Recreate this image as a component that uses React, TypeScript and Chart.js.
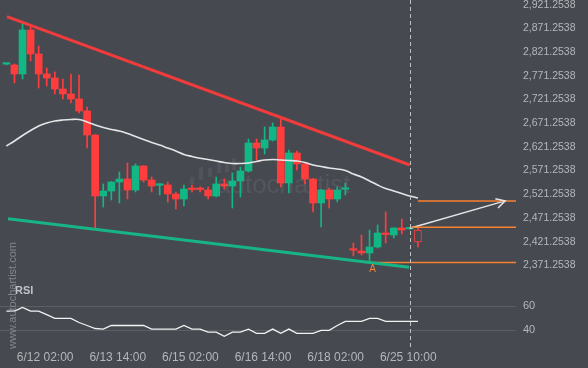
import React, { useEffect, useRef } from 'react';
import { Chart, registerables } from 'chart.js';

Chart.register(...registerables);

// ---------- data ----------
const opens = [
  2789.5, 2787.7, 2768.8, 2861.6, 2811.0, 2768.8, 2760.3, 2737.1, 2726.6, 2716.0,
  2690.7, 2640.0, 2511.4, 2521.9, 2540.9, 2547.2, 2524.0, 2574.7, 2545.1, 2534.0,
  2534.6, 2515.6, 2505.0, 2526.1, 2526.0, 2524.0, 2511.4, 2536.7, 2532.5, 2543.0,
  2564.1, 2623.2, 2612.6, 2629.5, 2656.9, 2538.8, 2602.1, 2578.9, 2547.2, 2496.6,
  2524.0, 2505.0, 2525.5, 2398.0, 2395.3, 2391.1, 2403.7, 2433.3, 2429.1, 2443.8,
  2442.0, 2439.6,
];
const highs = [
  2791.0, 2789.9, 2876.4, 2872.2, 2827.8, 2781.4, 2773.0, 2758.2, 2768.8, 2766.7,
  2699.1, 2641.0, 2536.7, 2542.0, 2562.0, 2581.0, 2578.9, 2575.5, 2551.4, 2537.0,
  2540.9, 2519.8, 2534.6, 2534.6, 2530.5, 2530.3, 2551.4, 2547.2, 2559.9, 2572.5,
  2631.6, 2631.6, 2656.9, 2665.4, 2673.8, 2608.4, 2606.3, 2579.5, 2548.0, 2525.0,
  2528.2, 2530.3, 2538.8, 2412.2, 2429.1, 2439.6, 2450.2, 2477.6, 2444.5, 2462.8,
  2444.0, 2446.0,
];
const lows = [
  2788.0, 2749.8, 2758.2, 2796.2, 2739.2, 2743.4, 2726.6, 2716.0, 2707.6, 2686.5,
  2612.6, 2443.8, 2488.1, 2502.9, 2496.6, 2505.0, 2519.8, 2540.9, 2519.8, 2513.5,
  2498.7, 2484.0, 2490.3, 2519.8, 2519.8, 2505.0, 2509.2, 2526.1, 2486.0, 2509.2,
  2562.0, 2587.3, 2600.0, 2627.4, 2530.3, 2517.7, 2566.2, 2536.7, 2477.6, 2446.0,
  2486.0, 2498.7, 2513.5, 2384.8, 2386.9, 2371.3, 2401.6, 2412.2, 2422.7, 2431.2,
  2441.0, 2403.7,
];
const closes = [
  2790.5, 2768.8, 2861.6, 2811.0, 2768.8, 2760.3, 2737.1, 2726.6, 2716.0, 2690.7,
  2640.0, 2511.4, 2521.9, 2540.9, 2547.2, 2524.0, 2574.7, 2545.1, 2532.5, 2535.0,
  2515.6, 2505.0, 2526.1, 2525.0, 2525.0, 2511.4, 2536.7, 2532.5, 2543.0, 2564.1,
  2623.2, 2612.6, 2629.5, 2656.9, 2538.8, 2602.1, 2578.9, 2547.2, 2496.6, 2524.0,
  2505.0, 2524.0, 2526.5, 2397.0, 2391.1, 2403.7, 2433.3, 2430.0, 2443.8, 2439.6,
  2443.5, 2414.3,
];
const movingAvg = [
  2616.8, 2627.4, 2639.0, 2649.5, 2659.0, 2665.3, 2669.6, 2671.7, 2672.7, 2672.7,
  2667.4, 2661.1, 2655.8, 2651.6, 2648.5, 2643.2, 2636.9, 2630.5, 2624.2, 2618.9,
  2612.6, 2606.3, 2598.9, 2594.7, 2590.9, 2588.3, 2585.2, 2582.0, 2579.9, 2579.9,
  2581.0, 2584.1, 2587.3, 2588.3, 2587.3, 2586.2, 2585.2, 2582.0, 2576.7, 2573.6,
  2570.4, 2568.3, 2565.1, 2557.7, 2551.4, 2543.0, 2534.5, 2527.1, 2521.9, 2516.6,
  2511.3, 2507.1,
];
const rsiValues = [
  56, 56, 59, 56, 56, 53, 50, 50, 50, 46.5,
  44, 41.5, 41, 44, 44, 44, 44, 44, 41, 41,
  41, 41, 44, 41, 41, 38.5, 38.5, 35, 38.5, 38.5,
  41, 37.5, 37.5, 41, 37.5, 41, 37.5, 37.5, 37.5, 40,
  40, 44, 47.5, 47.5, 47.5, 50, 50, 47.5, 47.5, 47.5,
  47.5, 47.5,
];

// trend / pattern lines: [index, price]
const resistanceLine = [[0.07, 2889.6], [50.0, 2576.7]];
const supportLine = [[0.2, 2463.4], [49.9, 2360.9]];
const levelA = 2371.2538;
const levelA_start = 45;
const levelMid = 2445.3;
const levelMid_start = 50;
const levelTarget = 2501.0;
const levelTarget_start = 51;
const forecastArrow = [[50.0, 2443.2], [61.8, 2501.0]];
const nowIndex = 50;
const aPointIndex = 45;

const xTickPos = [4.8, 13.8, 22.8, 31.8, 40.8, 49.8];
const xTickLabels = ['6/12 02:00', '6/13 14:00', '6/15 02:00', '6/16 14:00', '6/18 02:00', '6/25 10:00'];
const priceTicks = [
  2371.2538, 2421.2538, 2471.2538, 2521.2538, 2571.2538, 2621.2538,
  2671.2538, 2721.2538, 2771.2538, 2821.2538, 2871.2538, 2921.2538,
];
const rsiTicks = [40, 60];

// ---------- styles ----------
const BG = '#464a50';
const TXT = '#b3b6ba';
const GREEN = '#13b785';
const RED = '#ff3d3d';
const TREND_RED = '#f23b3b';
const TREND_GREEN = '#17b585';
const ORANGE = '#f7812f';
const WHITE = '#e4e5e7';
const FONT = '"Liberation Sans", Arial, sans-serif';

const X_MIN = -0.793;
const X_MAX = 63.15;

function fmtPrice(v: number) {
  const s = Number(v).toFixed(4);
  const [a, b] = s.split('.');
  return a.replace(/\B(?=(\d{3})+(?!\d))/g, ',') + '.' + b;
}

const overlayPlugin = {
  id: 'overlay',
  beforeDatasetsDraw(chart: any) {
    const { ctx } = chart;
    ctx.save();
    // faint watermark logo + text
    ctx.fillStyle = 'rgba(255,255,255,0.06)';
    const bars = [
      [190, 177, 4, 7], [199, 167, 4, 13], [208, 168, 4, 9],
      [217, 162, 4, 11], [225, 165, 4, 7], [232, 158, 4, 12],
    ];
    bars.forEach(([x, y, w, h]) => ctx.fillRect(x, y, w, h));
    ctx.fillStyle = 'rgba(255,255,255,0.07)';
    ctx.font = '26px ' + FONT;
    ctx.textBaseline = 'middle';
    ctx.textAlign = 'left';
    ctx.fillText('autochartist', 216, 186);
    ctx.restore();
  },
  afterDatasetsDraw(chart: any) {
    const { ctx, chartArea, scales } = chart;
    const xs = scales.x;
    const ys = scales.y;
    ctx.save();
    // dashed "now" line
    const nx = Math.round(xs.getPixelForValue(nowIndex)) + 0.5;
    ctx.strokeStyle = '#bfc1c4';
    ctx.lineWidth = 1;
    ctx.setLineDash([4, 3]);
    ctx.beginPath();
    ctx.moveTo(nx, chartArea.top);
    ctx.lineTo(nx, chartArea.bottom + 2);
    ctx.stroke();
    ctx.setLineDash([]);

    // arrow head
    const p0 = forecastArrow[0];
    const p1 = forecastArrow[1];
    const x0 = xs.getPixelForValue(p0[0]);
    const y0 = ys.getPixelForValue(p0[1]);
    const x1 = xs.getPixelForValue(p1[0]);
    const y1 = ys.getPixelForValue(p1[1]);
    const ang = Math.atan2(y1 - y0, x1 - x0);
    const L = 10;
    ctx.strokeStyle = WHITE;
    ctx.lineWidth = 1.5;
    ctx.beginPath();
    ctx.moveTo(x1 - L * Math.cos(ang - 0.5), y1 - L * Math.sin(ang - 0.5));
    ctx.lineTo(x1, y1);
    ctx.lineTo(x1 - L * Math.cos(ang + 0.5), y1 - L * Math.sin(ang + 0.5));
    ctx.stroke();

    // "A" marker
    ctx.fillStyle = ORANGE;
    ctx.font = '10px ' + FONT;
    ctx.textAlign = 'center';
    ctx.textBaseline = 'middle';
    ctx.fillText('A', xs.getPixelForValue(aPointIndex) + 3, ys.getPixelForValue(lows[aPointIndex]) + 7);

    // vertical site watermark
    ctx.save();
    ctx.translate(13, 349);
    ctx.rotate(-Math.PI / 2);
    ctx.fillStyle = 'rgba(150,153,158,0.75)';
    ctx.font = '11px ' + FONT;
    ctx.textAlign = 'left';
    ctx.textBaseline = 'middle';
    ctx.fillText('www.autochartist.com', 0, 0);
    ctx.restore();

    // RSI label
    ctx.fillStyle = '#bfc2c6';
    ctx.font = 'bold 11px ' + FONT;
    ctx.textAlign = 'left';
    ctx.textBaseline = 'middle';
    ctx.fillText('RSI', 15, 291);
    ctx.restore();
  },
};

export default function App() {
  const ref = useRef<HTMLCanvasElement>(null);

  useEffect(() => {
    const idx = opens.map((_, i) => i);
    const last = opens.length - 1;
    const candleColor = (i: number) => (closes[i] >= opens[i] ? GREEN : RED);

    Chart.defaults.font.family = FONT;

    const lineDs = (data: number[][], color: string, width: number, extra: any = {}) => ({
      type: 'line',
      data: data.map(([x, y]) => ({ x, y })),
      borderColor: color,
      borderWidth: width,
      pointRadius: 0,
      fill: false,
      tension: 0,
      order: 0,
      ...extra,
    });

    const chart = new Chart(ref.current as HTMLCanvasElement, {
      type: 'bar',
      data: {
        datasets: [
          {
            type: 'bar',
            data: idx.map((i) => ({ x: i, y: [lows[i], highs[i]] })),
            backgroundColor: idx.map(candleColor),
            barThickness: 1,
            grouped: false,
            minBarLength: 1,
            order: 5,
          } as any,
          {
            type: 'bar',
            data: idx.map((i) => ({ x: i, y: [opens[i], closes[i]] })),
            backgroundColor: idx.map((i) => (i === last ? BG : candleColor(i))),
            borderColor: idx.map(candleColor),
            borderWidth: idx.map((i) => (i === last ? 1 : 0)),
            borderSkipped: false,
            barThickness: 7,
            minBarLength: 1.5,
            grouped: false,
            order: 4,
          } as any,
          {
            type: 'line',
            data: idx.map((i) => ({ x: i, y: movingAvg[i] })),
            borderColor: WHITE,
            borderWidth: 1.6,
            pointRadius: 0,
            tension: 0.4,
            fill: false,
            order: 3,
          } as any,
          lineDs(resistanceLine, TREND_RED, 3) as any,
          lineDs(supportLine, TREND_GREEN, 3) as any,
          lineDs([[levelA_start, levelA], [X_MAX, levelA]], ORANGE, 1.5) as any,
          lineDs([[levelMid_start, levelMid], [X_MAX, levelMid]], ORANGE, 1.5) as any,
          lineDs([[levelTarget_start, levelTarget], [X_MAX, levelTarget]], ORANGE, 1.5) as any,
          lineDs(forecastArrow, WHITE, 1.5) as any,
          {
            type: 'line',
            yAxisID: 'rsi',
            data: idx.map((i) => ({ x: i, y: rsiValues[i] })),
            borderColor: '#f2f2f2',
            borderWidth: 1.3,
            pointRadius: 0,
            tension: 0,
            fill: false,
            order: 0,
          } as any,
        ],
      },
      options: {
        responsive: false,
        maintainAspectRatio: false,
        devicePixelRatio: 1,
        animation: false,
        events: [],
        layout: { padding: 0 },
        plugins: { legend: { display: false }, tooltip: { enabled: false }, title: { display: false } },
        scales: {
          x: {
            type: 'linear',
            min: X_MIN,
            max: X_MAX,
            offset: false,
            grid: { display: false, drawTicks: false },
            border: { display: false },
            ticks: {
              color: TXT,
              font: { size: 12, family: FONT },
              padding: 2,
              maxRotation: 0,
              autoSkip: false,
              callback: (_v: any, i: number) => xTickLabels[i],
            },
            afterBuildTicks: (s: any) => {
              s.ticks = xTickPos.map((v) => ({ value: v }));
            },
            afterFit: (s: any) => {
              s.height = 20;
              s.paddingLeft = 0;
              s.paddingRight = 0;
            },
          },
          y: {
            type: 'linear',
            position: 'right',
            min: 2190.65,
            max: 2924.85,
            grid: { display: false, drawTicks: false },
            border: { display: false },
            ticks: {
              color: TXT,
              font: { size: 10.5, family: FONT },
              padding: 7,
              labelOffset: 3,
              autoSkip: false,
              callback: (v: any) => fmtPrice(v),
            },
            afterBuildTicks: (s: any) => {
              s.ticks = priceTicks.map((v) => ({ value: v }));
            },
            afterFit: (s: any) => {
              s.width = 72;
              s.paddingTop = 0;
              s.paddingBottom = 0;
            },
          },
          rsi: {
            type: 'linear',
            position: 'left',
            min: 25.25,
            max: 315.25,
            grid: { display: true, color: '#5b5f65', lineWidth: 1, drawTicks: false },
            border: { display: false },
            ticks: {
              color: TXT,
              font: { size: 11, family: FONT },
              mirror: true,
              padding: 523,
              autoSkip: false,
              callback: (v: any) => String(v),
            },
            afterBuildTicks: (s: any) => {
              s.ticks = rsiTicks.map((v) => ({ value: v }));
            },
            afterFit: (s: any) => {
              s.width = 0;
              s.paddingTop = 0;
              s.paddingBottom = 0;
            },
          },
        },
      } as any,
      plugins: [overlayPlugin],
    });

    return () => chart.destroy();
  }, []);

  return (
    <div style={{ position: 'fixed', left: 0, top: 0, width: 588, height: 368, background: BG }}>
      <canvas ref={ref} width={588} height={368} style={{ display: 'block', width: 588, height: 368 }} />
    </div>
  );
}
